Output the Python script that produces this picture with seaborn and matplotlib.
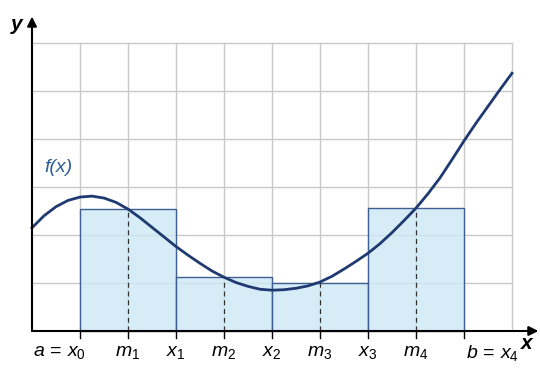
import numpy as np
import pandas as pd
import matplotlib
matplotlib.use("Agg")
import matplotlib.pyplot as plt
import seaborn as sns

# curve f(x) (grid units)
curva_x = [0.0, 0.25, 0.5, 0.75, 1.0, 1.25, 1.5, 1.75, 2.0, 2.25, 2.5, 2.75,
           3.0, 3.25, 3.5, 3.75, 4.0, 4.25, 4.5, 4.75, 5.0, 5.25, 5.5, 5.75,
           6.0, 6.25, 6.5, 6.75, 7.0, 7.25, 7.5, 7.75, 8.0, 8.25, 8.5, 8.75,
           9.0, 9.25, 9.5, 9.75, 10.0]
curva_y = [2.15, 2.40, 2.59, 2.72, 2.79, 2.81, 2.77, 2.68, 2.54, 2.36, 2.16, 1.96,
           1.76, 1.58, 1.41, 1.25, 1.12, 1.01, 0.93, 0.87, 0.85, 0.86, 0.89, 0.94,
           1.02, 1.14, 1.29, 1.45, 1.62, 1.82, 2.05, 2.30, 2.56, 2.86, 3.19, 3.57,
           3.96, 4.33, 4.68, 5.03, 5.37]

# midpoint rectangles
puntos_medios = [2, 4, 6, 8]
alturas = [2.54, 1.125, 1.0, 2.56]

# tick labels under the x axis
pos_etiquetas = [0.58, 2, 3, 4, 5, 6, 7, 8, 9.6]
etiquetas = [r"$a\,=\,x_0$", r"$m_1$", r"$x_1$", r"$m_2$", r"$x_2$",
             r"$m_3$", r"$x_3$", r"$m_4$", r"$b\,=\,x_4$"]
pos_ticks = [1, 2, 3, 4, 5, 6, 7, 8, 9]

plt.rcParams["mathtext.fontset"] = "custom"
plt.rcParams["mathtext.it"] = "Liberation Sans:italic"
plt.rcParams["mathtext.rm"] = "Liberation Sans"
plt.rcParams["font.family"] = ["Liberation Sans", "DejaVu Sans"]

fig = plt.figure(figsize=(5.4, 3.69), dpi=100)
ax = fig.add_axes([0, 0, 1, 1])

# grid
gris = "#c9c9c9"
for gx in range(1, 11):
    ax.plot([gx, gx], [0, 6], color=gris, lw=1, zorder=1)
for gy in range(1, 7):
    ax.plot([0, 10], [gy, gy], color=gris, lw=1, zorder=1)

# rectangles
df_rect = pd.DataFrame({"m": puntos_medios, "h": alturas})
sns.barplot(data=df_rect, x="m", y="h", native_scale=True, width=1,
            color="#cfe8f6", saturation=1, ax=ax, zorder=2)
for p in ax.patches:
    p.set_edgecolor("#3d5f92")
    p.set_linewidth(1)
    p.set_facecolor((0.80, 0.91, 0.965, 0.8))

for m, h in zip(puntos_medios, alturas):
    ax.plot([m, m], [0, h], color="#333333", lw=0.9, ls=(0, (4, 3)), zorder=3)

# curve
sns.lineplot(x=curva_x, y=curva_y, color="#1e3a70", lw=2, ax=ax, zorder=4)

ax.set_xlim(-32 / 48, 508 / 48)
ax.set_ylim(-38 / 48, 331 / 48)
ax.axis("off")

# axes with arrows
ax.annotate("", xy=(10.55, 0), xytext=(0, 0),
            arrowprops=dict(arrowstyle="-|>", color="black", lw=1.5,
                            mutation_scale=14, shrinkA=0, shrinkB=0), zorder=5)
ax.annotate("", xy=(0, 6.55), xytext=(0, 0),
            arrowprops=dict(arrowstyle="-|>", color="black", lw=1.5,
                            mutation_scale=14, shrinkA=0, shrinkB=0), zorder=5)

# ticks
for t in pos_ticks:
    ax.plot([t, t], [0, -0.15], color="black", lw=1, zorder=5)

for px, lab in zip(pos_etiquetas, etiquetas):
    ax.text(px, -0.45, lab, ha="center", va="center", fontsize=14)

ax.text(10.3, -0.27, "x", fontsize=15, fontweight="bold", style="italic",
        ha="center", va="center")
ax.text(-0.32, 6.38, "y", fontsize=15, fontweight="bold", style="italic",
        ha="center", va="center")
ax.text(0.55, 3.4, "f(x)", fontsize=14, style="italic", color="#2b5d94",
        ha="center", va="center")

fig.savefig("out.png", dpi=100)
